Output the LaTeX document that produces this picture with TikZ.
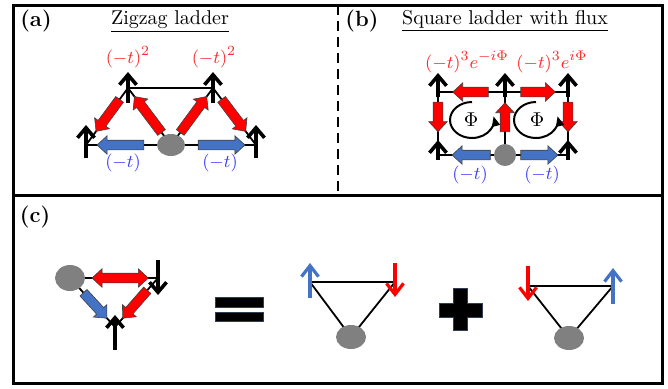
\documentclass[tikz,border=0pt]{standalone}
\usepackage{amsmath}
\usepackage{tikz}
\usetikzlibrary{shapes.geometric, arrows.meta, positioning, calc}
\definecolor{cRed}{RGB}{255,0,0}
\definecolor{cBlue}{RGB}{68,114,196}
\definecolor{cBlueTxt}{RGB}{60,60,255}
\definecolor{cRedTxt}{RGB}{255,40,40}
\definecolor{cSite}{RGB}{128,128,128}
\definecolor{cEdge}{RGB}{47,62,90}
\tikzset{
    panel/.style   ={line width=1.5pt},
    divider/.style ={line width=1.3pt, dash pattern=on 5pt off 3pt},
    bond/.style    ={line width=0.9pt},
    site/.style    ={ellipse, fill=cSite, draw=none, inner sep=0pt},
    spin/.style    ={line width=1.8pt, -{Straight Barb[length=5pt, width=8.5pt]}},
    thinspin/.style={line width=1.6pt, -{Straight Barb[length=5.5pt, width=8.5pt]}},
    fat/.style     ={draw=black!75, line width=0.3pt},
    fluxloop/.style={line width=1pt, -{Triangle[length=5pt, width=4pt]}},
    redlbl/.style  ={text=cRedTxt, font=\fontsize{9.5}{11}\selectfont},
    bluelbl/.style ={text=cBlueTxt, font=\fontsize{9.5}{11}\selectfont},
    title/.style   ={font=\normalsize},
    tag/.style     ={font=\bfseries\fontsize{11}{13}\selectfont},
    sign/.style    ={fill=black, draw=cEdge, line width=0.4pt},
}
% fat hopping arrow: colour, tail, tip
\newcommand{\fatarrow}[3]{%
  \coordinate (fa-s) at (#2);
  \coordinate (fa-e) at (#3);
  \coordinate (fa-c) at ($(fa-e)!5pt!(fa-s)$);
  \filldraw[fat, fill=#1] ($(fa-s)!2.4pt!90:(fa-e)$) -- ($(fa-c)!2.4pt!90:(fa-e)$)
    -- ($(fa-c)!4.6pt!90:(fa-e)$) -- (fa-e) -- ($(fa-c)!4.6pt!-90:(fa-e)$)
    -- ($(fa-c)!2.4pt!-90:(fa-e)$) -- ($(fa-s)!2.4pt!-90:(fa-e)$) -- cycle;
}
% same with a head at both ends
\newcommand{\fatboth}[3]{%
  \coordinate (fb-s) at (#2);
  \coordinate (fb-e) at (#3);
  \coordinate (fb-c) at ($(fb-e)!5pt!(fb-s)$);
  \coordinate (fb-d) at ($(fb-s)!5pt!(fb-e)$);
  \filldraw[fat, fill=#1] (fb-s) -- ($(fb-d)!4.6pt!90:(fb-e)$) -- ($(fb-d)!2.4pt!90:(fb-e)$)
    -- ($(fb-c)!2.4pt!90:(fb-e)$) -- ($(fb-c)!4.6pt!90:(fb-e)$) -- (fb-e)
    -- ($(fb-c)!4.6pt!-90:(fb-e)$) -- ($(fb-c)!2.4pt!-90:(fb-e)$)
    -- ($(fb-d)!2.4pt!-90:(fb-e)$) -- ($(fb-d)!4.6pt!-90:(fb-e)$) -- cycle;
}

\begin{document}
\begin{tikzpicture}[x=0.5pt, y=-0.5pt]
    \useasboundingbox (0,0) rectangle (668,388);
    % frame
    \draw[panel] (13,5) rectangle (662,383);
    \draw[panel] (13,195) -- (662,195);
    \draw[divider] (338,5) -- (338,195);

    % (a) zigzag ladder
    \node[tag] (tagA) at (36,21) {(a)};
    \node[title] (titleA) at (170,22) {\underline{Zigzag ladder}};
    \coordinate (a1) at (86,145);
    \coordinate (a2) at (128,88);
    \coordinate (a3) at (171,145);
    \coordinate (a4) at (213,88);
    \coordinate (a5) at (256,145);
    \draw[bond] (a1) -- (a5);
    \draw[bond] (a2) -- (a4);
    \draw[bond] (a1) -- (a2) -- (a3) -- (a4) -- (a5);
    \node[site, minimum width=14pt, minimum height=11pt] (siteA) at (a3) {};
    \draw[spin] ($(a1)+(0,13)$) -- ($(a1)+(0,-20)$);
    \draw[spin] ($(a5)+(0,13)$) -- ($(a5)+(0,-20)$);
    \draw[spin] ($(a2)+(0,15)$) -- ($(a2)+(0,-16)$);
    \draw[spin] ($(a4)+(0,15)$) -- ($(a4)+(0,-16)$);
    \fatarrow{cRed}{$(a2)!0.2!(a1)$}{$(a2)!0.76!(a1)$}
    \fatarrow{cRed}{$(a3)!0.22!(a2)$}{$(a3)!0.85!(a2)$}
    \fatarrow{cRed}{$(a3)!0.22!(a4)$}{$(a3)!0.85!(a4)$}
    \fatarrow{cRed}{$(a4)!0.2!(a5)$}{$(a4)!0.76!(a5)$}
    \fatarrow{cBlue}{$(a3)!0.32!(a1)$}{$(a3)!0.87!(a1)$}
    \fatarrow{cBlue}{$(a3)!0.32!(a5)$}{$(a3)!0.87!(a5)$}
    \node[redlbl] (hopA1) at (128,57) {$(-t)^2$};
    \node[redlbl] (hopA2) at (214,57) {$(-t)^2$};
    \node[bluelbl] (hopA3) at (123,163) {$(-t)$};
    \node[bluelbl] (hopA4) at (220,163) {$(-t)$};

    % (b) square ladder with flux
    \node[tag] (tagB) at (362,21) {(b)};
    \node[title] (titleB) at (505,21) {\underline{Square ladder with flux}};
    \coordinate (b1) at (438,92);
    \coordinate (b2) at (505,92);
    \coordinate (b3) at (568,92);
    \coordinate (b4) at (438,155);
    \coordinate (b5) at (505,155);
    \coordinate (b6) at (568,155);
    \draw[bond] (b1) -- (b3);
    \draw[bond] (b4) -- (b6);
    \draw[bond] (b1) -- (b4);
    \draw[bond] (b2) -- (b5);
    \draw[bond] (b3) -- (b6);
    \node[site, minimum width=11pt, minimum height=11pt] (siteB) at (b5) {};
    \draw[spin] ($(b1)+(0,5)$) -- ($(b1)+(0,-19)$);
    \draw[spin] ($(b2)+(0,5)$) -- ($(b2)+(0,-19)$);
    \draw[spin] ($(b3)+(0,5)$) -- ($(b3)+(0,-19)$);
    \draw[spin] ($(b4)+(0,5)$) -- ($(b4)+(0,-15)$);
    \draw[spin] ($(b6)+(0,5)$) -- ($(b6)+(0,-15)$);
    \fatarrow{cRed}{$(b2)!0.25!(b1)$}{$(b2)!0.78!(b1)$}
    \fatarrow{cRed}{$(b2)!0.25!(b3)$}{$(b2)!0.8!(b3)$}
    \fatarrow{cRed}{$(b1)!0.16!(b4)$}{$(b1)!0.63!(b4)$}
    \fatarrow{cRed}{$(b5)!0.37!(b2)$}{$(b5)!0.83!(b2)$}
    \fatarrow{cRed}{$(b3)!0.16!(b6)$}{$(b3)!0.63!(b6)$}
    \fatarrow{cBlue}{$(b5)!0.22!(b4)$}{$(b5)!0.79!(b4)$}
    \fatarrow{cBlue}{$(b5)!0.25!(b6)$}{$(b5)!0.84!(b6)$}
    \coordinate (loopL) at (472,120);
    \coordinate (loopR) at (536,120);
    \draw[fluxloop] (loopL) ++(0,-18) arc[start angle=90, end angle=372, x radius=11pt, y radius=9pt];
    \draw[fluxloop] (loopR) ++(0,-18) arc[start angle=90, end angle=372, x radius=11pt, y radius=9pt];
    \node (fluxL) at (471,120) {$\Phi$};
    \node (fluxR) at (537,120) {$\Phi$};
    \node[redlbl] (hopB1) at (467,62) {$(-t)^3e^{-i\Phi}$};
    \node[redlbl] (hopB2) at (552,62) {$(-t)^3e^{i\Phi}$};
    \node[bluelbl] (hopB3) at (470,175) {$(-t)$};
    \node[bluelbl] (hopB4) at (542,175) {$(-t)$};

    % (c) decomposition
    \node[tag] (tagC) at (35,217) {(c)};
    \coordinate (c1) at (70,278);
    \coordinate (c2) at (158,278);
    \coordinate (c3) at (115,327);
    \draw[bond] (c1) -- (c2) -- (c3) -- cycle;
    \node[site, minimum width=15pt, minimum height=13pt] (siteC) at (c1) {};
    \draw[spin] ($(c2)+(0,-18)$) -- ($(c2)+(0,17)$);
    \draw[spin] ($(c3)+(0,23)$) -- ($(c3)+(0,-12)$);
    \fatboth{cRed}{$(c1)!0.25!(c2)$}{$(c1)!0.89!(c2)$}
    \fatarrow{cBlue}{$(c1)!0.3!(c3)$}{$(c1)!0.82!(c3)$}
    \fatarrow{cRed}{$(c2)!0.25!(c3)$}{$(c2)!0.82!(c3)$}

    \filldraw[sign] (215,297) rectangle (263,307);
    \filldraw[sign] (215,312) rectangle (263,321);

    \coordinate (d1) at (310,282);
    \coordinate (d2) at (395,282);
    \coordinate (d3) at (351,337);
    \draw[bond] (d1) -- (d2) -- (d3) -- cycle;
    \node[site, minimum width=15pt, minimum height=12pt] (siteD) at (d3) {};
    \draw[thinspin, cBlue] ($(d1)+(0,16)$) -- ($(d1)+(0,-19)$);
    \draw[thinspin, cRed] ($(d2)+(0,-19)$) -- ($(d2)+(0,15)$);

    \filldraw[sign] (439,303) -- (453,303) -- (453,288) -- (467,288) -- (467,303) -- (482,303)
      -- (482,317) -- (467,317) -- (467,330) -- (453,330) -- (453,317) -- (439,317) -- cycle;

    \coordinate (e1) at (528,286);
    \coordinate (e2) at (613,286);
    \coordinate (e3) at (569,338);
    \draw[bond] (e1) -- (e2) -- (e3) -- cycle;
    \node[site, minimum width=15pt, minimum height=12pt] (siteE) at (e3) {};
    \draw[thinspin, cRed] ($(e1)+(0,-20)$) -- ($(e1)+(0,15)$);
    \draw[thinspin, cBlue] ($(e2)+(0,18)$) -- ($(e2)+(0,-18)$);
\end{tikzpicture}
\end{document}
